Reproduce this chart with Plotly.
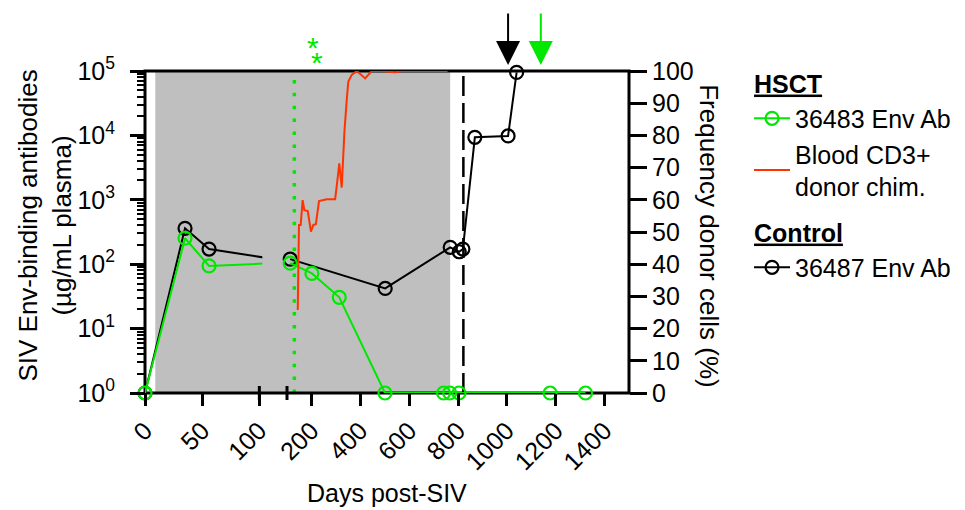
import plotly.graph_objects as go

# ---- data ----
# Env-binding antibodies (ug/mL plasma), log scale
HSCT_DAYS = [0, 35, 56, 113, 202, 314, 501, 741, 766, 804, 1177, 1322]
HSCT_AB = [1, 253, 94, 104, 72, 30.6, 1, 1, 1, 1, 1, 1]

CTRL_DAYS = [0, 35, 56, 113, 502, 768, 805, 820, 869, 1005, 1040]
CTRL_AB = [1, 361, 172, 120, 42, 183, 156, 172, 9350, 9800, 95000]

# blood CD3+ donor chimerism (%), right axis
CHIM_DAYS = [144, 149, 156, 164, 171, 185, 198, 208, 218, 231, 263, 297,
             306, 314, 324, 335, 345, 351, 365, 386, 420, 447, 488, 542,
             570, 638, 693, 757]
CHIM_PCT = [25.8, 52.2, 52.2, 59.9, 56.8, 56.5, 50.1, 52.2, 52.4, 59.6, 60.2,
            60.2, 65.8, 71.3, 63.8, 81.1, 91.5, 96.7, 98.8, 100, 97.7, 100,
            100, 99.6, 100, 100, 99.8, 100]

SHADE_DAYS = [9, 768]      # grey shaded period
HSCT_DAY = 130             # dotted green line
DASH_DAY = 822             # dashed black line
ARROW_DAYS = {'black': 1005, 'green': 1139}

SEG1_RANGE = [0, 102.6]
SEG2_RANGE = [100, 1500]
SEG1_TICKS = [0, 50, 100]
SEG2_TICKS = [200, 400, 600, 800, 1000, 1200, 1400]
LOG_TICKS = [1, 10, 100, 1000, 10000, 100000]
PCT_TICKS = list(range(0, 101, 10))

GREEN = '#00E800'
RED = '#FF3300'
GREY = '#BFBFBF'
FONT = 'Liberation Sans, Arial, sans-serif'

D1, D2 = 0.2424, 0.2934   # x-axis break (paper fractions)


def split(days, vals):
    """Points for the left segment (up to the first one past the break) and the right one."""
    left_d, left_v = [], []
    for d, v in zip(days, vals):
        left_d.append(d)
        left_v.append(v)
        if d > SEG1_RANGE[1]:
            break
    right = [(d, v) for d, v in zip(days, vals) if d >= SEG2_RANGE[0]]
    return (left_d, left_v), ([d for d, _ in right], [v for _, v in right])


fig = go.Figure()

series = [
    ('36487 Env Ab', CTRL_DAYS, CTRL_AB, 'black', 'control', '<b><u>Control</u></b>', 3),
    ('36483 Env Ab', HSCT_DAYS, HSCT_AB, GREEN, 'hsct', '<b><u>HSCT</u></b>', 1),
]
for name, days, vals, color, group, gtitle, rank in series:
    (ld, lv), (rd, rv) = split(days, vals)
    common = dict(mode='lines+markers', cliponaxis=False,
                  line=dict(color=color, width=2),
                  marker=dict(symbol='circle-open', size=13, color=color, line=dict(width=2.2)),
                  legendgroup=group, name=name)
    fig.add_trace(go.Scatter(x=ld, y=lv, xaxis='x', yaxis='y', showlegend=False, **common))
    fig.add_trace(go.Scatter(x=rd, y=rv, xaxis='x2', yaxis='y', showlegend=True,
                             legendrank=rank, legendgrouptitle_text=gtitle, **common))

fig.add_trace(go.Scatter(
    x=CHIM_DAYS, y=CHIM_PCT, xaxis='x2', yaxis='y2', mode='lines',
    line=dict(color=RED, width=2), name='Blood CD3+<br>donor chim.',
    legendgroup='hsct', legendrank=2,
))

shapes = [
    # grey period, split over both segments and the gap
    dict(type='rect', xref='x', yref='paper', x0=SHADE_DAYS[0], x1=SEG1_RANGE[1], y0=0, y1=1,
         fillcolor=GREY, line_width=0, layer='below'),
    dict(type='rect', xref='paper', yref='paper', x0=D1 - 0.003, x1=D2 + 0.003, y0=0, y1=1,
         fillcolor=GREY, line_width=0, layer='below'),
    dict(type='rect', xref='x2', yref='paper', x0=SEG2_RANGE[0], x1=SHADE_DAYS[1], y0=0, y1=1,
         fillcolor=GREY, line_width=0, layer='below'),
    dict(type='line', xref='x2', yref='paper', x0=HSCT_DAY, x1=HSCT_DAY, y0=0, y1=1,
         line=dict(color=GREEN, width=3.5, dash='3.5px,9.4px'), layer='below'),
    dict(type='line', xref='x2', yref='paper', x0=DASH_DAY, x1=DASH_DAY, y0=0, y1=1,
         line=dict(color='black', width=2.5, dash='20px,7px'), layer='below'),
    # frame
    dict(type='rect', xref='paper', yref='paper', x0=0, x1=1, y0=0, y1=1,
         line=dict(color='black', width=3), layer='below'),
]
# axis break marks: at the last left tick and at the start of the right segment
break_left = D1 * (SEG1_TICKS[-1] - SEG1_RANGE[0]) / (SEG1_RANGE[1] - SEG1_RANGE[0])
for xb in (break_left, D2):
    shapes.append(dict(type='line', xref='paper', yref='paper', ysizemode='pixel', yanchor=0,
                       x0=xb, x1=xb, y0=-7, y1=7, line=dict(color='black', width=3)))

annotations = [
    dict(text='Days post-SIV', xref='paper', yref='paper', x=0.5, y=0, yshift=-100,
         xanchor='center', yanchor='middle', showarrow=False, font=dict(size=25)),
    dict(text='SIV Env-binding antibodies<br>(µg/mL plasma)', xref='paper', yref='paper',
         x=0, y=0.52, xshift=-100, xanchor='center', yanchor='middle',
         textangle=-90, showarrow=False, font=dict(size=26)),
    dict(text='Frequency donor cells (%)', xref='paper', yref='paper',
         x=1, y=0.49, xshift=80, xanchor='center', yanchor='middle',
         textangle=90, showarrow=False, font=dict(size=26)),
    dict(text='*', xref='x2', yref='paper', x=208, y=1, yshift=42,
         showarrow=False, font=dict(size=30, color=GREEN)),
    dict(text='*', xref='x2', yref='paper', x=222, y=1, yshift=27,
         showarrow=False, font=dict(size=30, color=GREEN)),
]
for color, day in ARROW_DAYS.items():
    annotations.append(dict(
        text='', xref='x2', yref='paper', x=day, y=1.0186, ax=0, ay=-53,
        showarrow=True, arrowhead=2, arrowsize=2.4, arrowwidth=2,
        arrowcolor=GREEN if color == 'green' else 'black',
    ))

tick_common = dict(ticks='outside', tickwidth=3, tickcolor='black', showgrid=False,
                   zeroline=False, showline=False, automargin=False,
                   tickfont=dict(size=25))

fig.update_layout(
    width=965, height=510,
    margin=dict(l=145, r=336, t=71, b=117, autoexpand=False),
    paper_bgcolor='white', plot_bgcolor='rgba(0,0,0,0)',
    font=dict(family=FONT, color='black', size=25),
    xaxis=dict(domain=[0, D1], range=SEG1_RANGE, tickvals=SEG1_TICKS, tickangle=-45,
               ticklen=12, anchor='y', **tick_common),
    xaxis2=dict(domain=[D2, 1], range=SEG2_RANGE, tickvals=SEG2_TICKS, tickangle=-45,
                ticklen=12, anchor='y', **tick_common),
    yaxis=dict(type='log', range=[0, 5], tickvals=LOG_TICKS,
               ticktext=['10<sup>%d</sup>' % i for i in range(6)], ticklen=14,
               ticklabelstandoff=10, anchor='x',
               minor=dict(ticks='outside', ticklen=7, tickwidth=2, tickcolor='black', dtick='D1'),
               **tick_common),
    yaxis2=dict(range=[0, 100], tickvals=PCT_TICKS, overlaying='y', side='right',
                anchor='x2', ticklen=17, **tick_common),
    shapes=shapes,
    annotations=annotations,
    showlegend=True,
    legend=dict(x=1.248, y=1.034, xanchor='left', yanchor='top', traceorder='grouped',
                tracegroupgap=10, itemwidth=36, font=dict(size=25), bgcolor='rgba(0,0,0,0)',
                grouptitlefont=dict(size=25)),
)

# drop the browser's default body margin so the figure sits at the page origin
fig.write_html('out.html', config={'displayModeBar': False},
               post_script="document.body.style.margin = '0px';")
